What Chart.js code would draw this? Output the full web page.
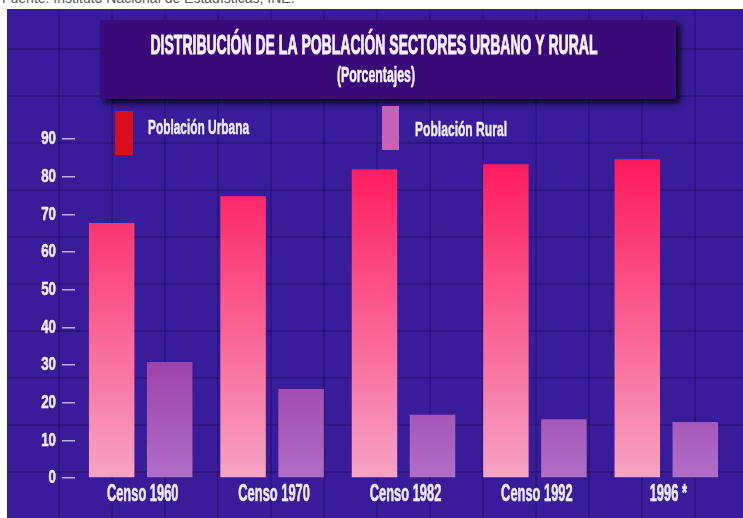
<!DOCTYPE html>
<html><head><meta charset="utf-8">
<script src="https://cdn.jsdelivr.net/npm/chart.js@4.4.0/dist/chart.umd.min.js"></script>
<style>
html,body{margin:0;padding:0;background:#fff;}
#wrap{position:relative;width:743px;height:518px;overflow:hidden;background:#fff;}
#src{position:absolute;left:2px;top:-10px;font:14px "Liberation Sans",Arial,sans-serif;color:#555;white-space:nowrap;}
#panel{position:absolute;left:7px;top:9px;width:736px;height:509px;
background:
 repeating-linear-gradient(90deg, rgba(0,0,0,0) 0 51px, rgba(8,0,35,0.22) 51px 53px),
 repeating-linear-gradient(0deg, rgba(0,0,0,0) 0 45px, rgba(8,0,35,0.22) 45px 47px),
 #391c9a;}
canvas{position:absolute;left:0;top:0;}
</style></head><body>
<div id="wrap">
<div id="src">Fuente: Instituto Nacional de Estadísticas, INE.</div>
<div id="panel"></div>
<canvas id="c" width="743" height="518"></canvas>
</div>
<script>
const categories = ['Censo 1960', 'Censo 1970', 'Censo 1982', 'Censo 1992', '1996 *'];
const urbana = [67.7, 74.8, 82.0, 83.3, 84.6];
const rural = [30.8, 23.6, 16.8, 15.6, 14.9];
const yTickValues = [0, 10, 20, 30, 40, 50, 60, 70, 80, 90];
const titleText = 'DISTRIBUCIÓN DE LA POBLACIÓN SECTORES URBANO Y RURAL';
const subtitleText = '(Porcentajes)';
const seriesNames = ['Población Urbana', 'Población Rural'];

const FONT = '"Liberation Sans", Arial, sans-serif';

function drawText(ctx, text, x, y, size, sx, align, color, stroke) {
  ctx.save();
  ctx.font = 'bold ' + size + 'px ' + FONT;
  ctx.textBaseline = 'middle';
  ctx.textAlign = align;
  ctx.fillStyle = color;
  ctx.translate(x, y);
  ctx.scale(sx, 1);
  ctx.fillText(text, 0, 0);
  if (stroke) {
    ctx.strokeStyle = color;
    ctx.lineWidth = stroke;
    ctx.lineJoin = 'round';
    ctx.strokeText(text, 0, 0);
  }
  ctx.restore();
}
function fitText(ctx, text, x, y, size, width, align, color, stroke) {
  ctx.save();
  ctx.font = 'bold ' + size + 'px ' + FONT;
  const w = ctx.measureText(text).width;
  ctx.restore();
  drawText(ctx, text, x, y, size, width / w, align, color, stroke);
}

function gradient(context, stops) {
  const chart = context.chart;
  const a = chart.chartArea;
  if (!a) return stops[stops.length - 1][1];
  const g = chart.ctx.createLinearGradient(0, a.bottom, 0, a.top);
  stops.forEach(s => g.addColorStop(s[0], s[1]));
  return g;
}

const decorPlugin = {
  id: 'decor',
  beforeDraw(chart) {
    const ctx = chart.ctx;
    ctx.save();
    ctx.shadowColor = 'rgba(0,0,0,0.85)';
    ctx.shadowBlur = 6;
    ctx.shadowOffsetX = 4;
    ctx.shadowOffsetY = 4;
    ctx.fillStyle = '#3a0b78';
    ctx.fillRect(100, 20, 576, 79);
    ctx.restore();
    fitText(ctx, titleText, 374, 47, 27, 447, 'center', '#f4f0ff', 1);
    fitText(ctx, subtitleText, 376, 76, 22, 78, 'center', '#f4f0ff', 0.6);
    const ds = chart.data.datasets;
    const leg = [
      {bx: 115, by: 111, bw: 18, bh: 44, tx: 148, ty: 128, tw: 101},
      {bx: 382, by: 106, bw: 17, bh: 44, tx: 415, ty: 130, tw: 92}
    ];
    ds.forEach((d, i) => {
      const L = leg[i];
      ctx.fillStyle = d.legendColor;
      ctx.fillRect(L.bx, L.by, L.bw, L.bh);
      fitText(ctx, d.label, L.tx, L.ty, 21, L.tw, 'left', '#f0eeff', 0.5);
    });
  },
  afterDraw(chart) {
    const ctx = chart.ctx;
    const xs = chart.scales.x, ys = chart.scales.y;
    ys.ticks.forEach((t, i) => {
      const y = ys.getPixelForTick(i);
      drawText(ctx, String(t.value), 56, y, 19, 0.7, 'right', '#eeeaff', 0.6);
    });
    xs.ticks.forEach((t, i) => {
      const x = xs.getPixelForTick(i);
      drawText(ctx, chart.data.labels[t.value], x + 2, 495, 23, 0.56, 'center', '#eeeaff', 0.6);
    });
  }
};

new Chart(document.getElementById('c'), {
  type: 'bar',
  data: {
    labels: categories,
    datasets: [
      {
        label: seriesNames[0],
        data: urbana,
        legendColor: '#d8101e',
        backgroundColor: c => gradient(c, [[0, '#f6a4c4'], [0.5, '#fa5a8e'], [1, '#ff1054']]),
        borderWidth: 0,
        categoryPercentage: 0.883,
        barPercentage: 0.784
      },
      {
        label: seriesNames[1],
        data: rural,
        legendColor: '#c662b8',
        backgroundColor: c => gradient(c, [[0, '#b06ec6'], [0.35, '#9c42ac'], [1, '#8a2a9c']]),
        borderWidth: 0,
        categoryPercentage: 0.883,
        barPercentage: 0.784
      }
    ]
  },
  options: {
    responsive: false,
    devicePixelRatio: 1,
    animation: false,
    layout: {padding: {left: 7, right: 11, top: 139, bottom: 0}},
    plugins: {legend: {display: false}, title: {display: false}, tooltip: {enabled: false}},
    scales: {
      x: {
        grid: {display: false},
        border: {display: false},
        ticks: {display: false},
        afterFit: s => { s.height = 40; }
      },
      y: {
        min: 0, max: 90,
        afterBuildTicks: s => { s.ticks = yTickValues.map(v => ({value: v})); },
        grid: {drawOnChartArea: false, drawTicks: true, tickLength: 13, color: '#b7b0ea', lineWidth: 1.5},
        border: {display: false},
        ticks: {display: false},
        afterFit: s => { s.width = 68; }
      }
    }
  },
  plugins: [decorPlugin]
});
</script>
</body></html>
